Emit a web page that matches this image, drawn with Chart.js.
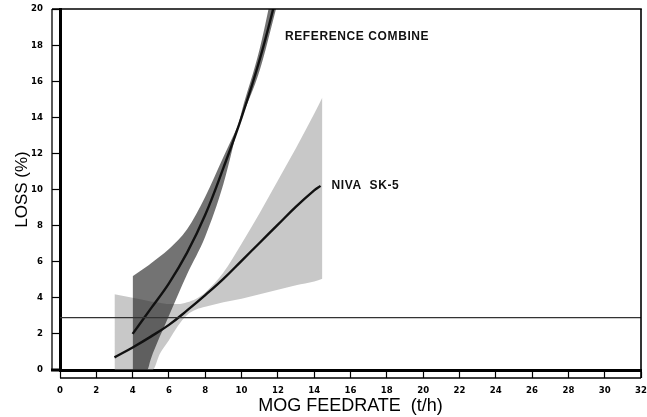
<!DOCTYPE html>
<html><head><meta charset="utf-8">
<script src="https://cdn.jsdelivr.net/npm/chart.js@4/dist/chart.umd.min.js"></script>
<style>html,body{margin:0;padding:0;background:#fff}#wrap{width:647px;height:417px}</style>
</head><body><div id="wrap"><canvas id="c" width="647" height="417"></canvas></div>
<script>
// ---- data ----
const xTickValues = [0,2,4,6,8,10,12,14,16,18,20,22,24,26,28,30,32];
const xTickLabels = ['0','2','4','6','8','10','12','14','16','18','20','22','24','26','28','30','32'];
const yTickValues = [0,2,4,6,8,10,12,14,16,18,20];
const yTickLabels = ['0','2','4','6','8','10','12','14','16','18','20'];

// Reference combine: fitted curve and its band
const refX    = [4, 5, 6, 7, 8, 9, 10, 11, 12];
const refLoss = [2.0, 3.4, 4.8, 6.5, 8.6, 11.2, 14.0, 17.2, 21.0];
const refBandX     = [4, 4.8, 5, 6, 7, 8, 9, 10, 11, 12];
const refBandUpper = [5.2, 5.75, 5.9, 6.7, 7.8, 9.6, 11.8, 14.0, 16.6, 20.4];
const refBandLower = [0, 0, 0.6, 3.0, 5.3, 7.4, 10.3, 14.3, 17.8, 22.5];

// NIVA SK-5: fitted curve and its band
const nivaX    = [3, 4, 5, 6, 7, 8, 9, 10, 11, 12, 13, 14, 14.35];
const nivaLoss = [0.7, 1.25, 1.85, 2.5, 3.3, 4.15, 5.05, 6.05, 7.05, 8.05, 9.05, 9.95, 10.2];
const nivaBandX     = [3, 4, 5, 5.1, 5.5, 6, 6.5, 7, 7.5, 8, 9, 10, 11, 12, 13, 14, 14.45];
const nivaBandUpper = [4.2, 4.0, 3.8, 3.78, 3.72, 3.65, 3.65, 3.75, 3.95, 4.3, 5.4, 7.0, 8.7, 10.5, 12.3, 14.2, 15.1];
const nivaBandLower = [0, 0, 0, 0, 0.9, 1.65, 2.45, 3.05, 3.35, 3.5, 3.75, 3.95, 4.2, 4.45, 4.7, 4.9, 5.05];

// horizontal reference level
const refLevelX = [0, 32];
const refLevel  = [2.9, 2.9];

const seriesLabels = ['REFERENCE COMBINE', 'NIVA  SK-5'];

// ---- helpers ----
const pts = (xs, ys) => xs.map((x, i) => ({x, y: ys[i]}));
const TICK_FONT = "'Liberation Sans Narrow', 'DejaVu Sans Condensed', 'Liberation Sans', sans-serif";
const TEXT_FONT = "'Liberation Sans', Arial, sans-serif";

const framePlugin = {
  id: 'frame',
  afterDraw(chart) {
    const {ctx, chartArea: a} = chart;
    ctx.save();
    ctx.strokeStyle = '#000';
    ctx.lineWidth = 1.6;
    ctx.beginPath(); ctx.moveTo(52, a.top); ctx.lineTo(a.right + 0.8, a.top); ctx.stroke();
    ctx.beginPath(); ctx.moveTo(a.right, a.top); ctx.lineTo(a.right, a.bottom + 8); ctx.stroke();
    ctx.lineWidth = 1.3;
    ctx.beginPath(); ctx.moveTo(52, a.top); ctx.lineTo(52, a.bottom + 1); ctx.stroke();
    ctx.beginPath(); ctx.moveTo(a.left, a.bottom + 8); ctx.lineTo(a.right, a.bottom + 8); ctx.stroke();
    ctx.lineWidth = 3;
    ctx.beginPath(); ctx.moveTo(51, a.bottom); ctx.lineTo(a.left, a.bottom); ctx.stroke();
    // series labels
    ctx.fillStyle = '#111';
    ctx.font = "bold 12px " + TEXT_FONT;
    ctx.letterSpacing = '0.6px';
    ctx.textBaseline = 'middle';
    ctx.textAlign = 'left';
    ctx.fillText(seriesLabels[0], 285, 37);
    const xs = chart.scales.x, ys = chart.scales.y;
    const nx = xs.getPixelForValue(nivaX[nivaX.length - 1]);
    const ny = ys.getPixelForValue(nivaLoss[nivaLoss.length - 1]);
    ctx.fillText(seriesLabels[1], nx + 11, ny);
    ctx.restore();
  }
};

new Chart(document.getElementById('c'), {
  type: 'line',
  data: {
    datasets: [
      {label: 'level', data: pts(refLevelX, refLevel), borderColor: '#333', borderWidth: 1.3,
       pointRadius: 0, fill: false, order: 0},
      {label: 'nivaUpper', data: pts(nivaBandX, nivaBandUpper), borderWidth: 0, borderColor: 'rgba(0,0,0,0)',
       pointRadius: 0, fill: false, cubicInterpolationMode: 'monotone', order: 9},
      {label: 'nivaLower', data: pts(nivaBandX, nivaBandLower), borderWidth: 0, borderColor: 'rgba(0,0,0,0)',
       pointRadius: 0, fill: '-1', backgroundColor: 'rgba(135,135,135,0.46)', cubicInterpolationMode: 'monotone', order: 8},
      {label: 'refUpper', data: pts(refBandX, refBandUpper), borderWidth: 0, borderColor: 'rgba(0,0,0,0)',
       pointRadius: 0, fill: false, cubicInterpolationMode: 'monotone', order: 7},
      {label: 'refLower', data: pts(refBandX, refBandLower), borderWidth: 0, borderColor: 'rgba(0,0,0,0)',
       pointRadius: 0, fill: '-1', backgroundColor: 'rgba(40,40,40,0.65)', cubicInterpolationMode: 'monotone', order: 6},
      {label: 'NIVA SK-5', data: pts(nivaX, nivaLoss), borderColor: '#111', borderWidth: 2.4,
       pointRadius: 0, fill: false, tension: 0.4, order: 2},
      {label: 'REFERENCE COMBINE', data: pts(refX, refLoss), borderColor: '#111', borderWidth: 2.4,
       pointRadius: 0, fill: false, tension: 0.4, order: 1}
    ]
  },
  options: {
    responsive: false,
    animation: false,
    devicePixelRatio: 1,
    layout: {padding: {left: 0, top: 9, right: 6, bottom: 0}},
    plugins: {legend: {display: false}, tooltip: {enabled: false}},
    scales: {
      x: {
        type: 'linear', min: 0, max: 32,
        afterFit(s) { s.height = 47; s.paddingLeft = 0; s.paddingRight = 0; },
        afterBuildTicks(s) { s.ticks = xTickValues.map(v => ({value: v})); },
        grid: {drawOnChartArea: false, drawTicks: true, tickLength: 8, tickColor: '#000', tickWidth: 1.2},
        border: {display: true, color: '#000', width: 3},
        ticks: {
          autoSkip: false, maxRotation: 0, padding: 7, color: '#000',
          font: {family: TICK_FONT, size: 9.5, weight: 'bold'},
          callback: (v) => { const i = xTickValues.indexOf(v); return i < 0 ? '' : xTickLabels[i]; }
        },
        title: {display: true, text: 'MOG FEEDRATE  (t/h)', color: '#000',
                font: {family: TEXT_FONT, size: 18}, padding: {top: 0, bottom: 0}}
      },
      y: {
        type: 'linear', min: 0, max: 20,
        afterFit(s) { s.width = 60; s.paddingTop = 0; s.paddingBottom = 0; },
        afterBuildTicks(s) { s.ticks = yTickValues.map(v => ({value: v})); },
        grid: {drawOnChartArea: false, drawTicks: true, tickLength: 8, tickColor: '#000', tickWidth: 1.2},
        border: {display: true, color: '#000', width: 3},
        ticks: {
          autoSkip: false, padding: 9, color: '#000',
          font: {family: TICK_FONT, size: 9.5, weight: 'bold'},
          callback: (v) => { const i = yTickValues.indexOf(v); return i < 0 ? '' : yTickLabels[i]; }
        },
        title: {display: true, text: 'LOSS (%)', color: '#000',
                font: {family: TEXT_FONT, size: 17}, padding: {top: 12, bottom: 0}}
      }
    }
  },
  plugins: [framePlugin]
});
</script>
</body></html>
